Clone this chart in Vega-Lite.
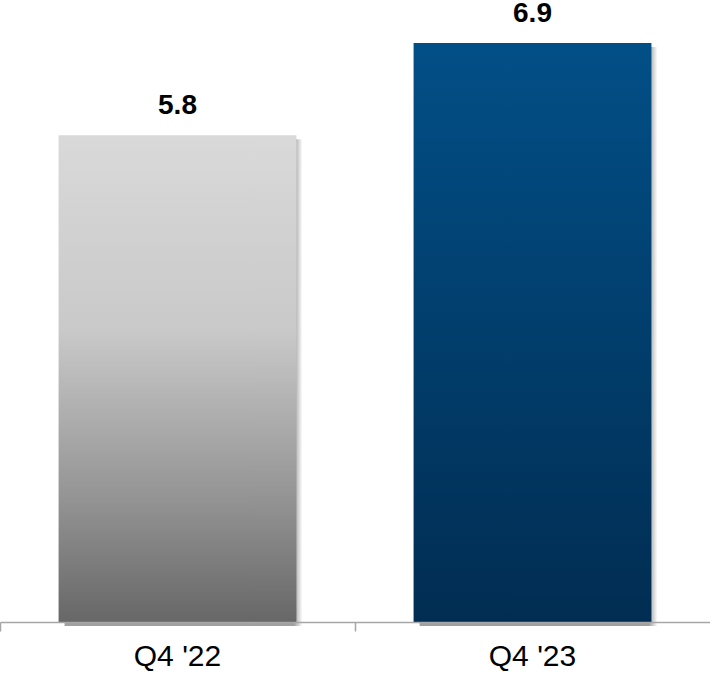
{
  "$schema": "https://vega.github.io/schema/vega-lite/v6.json",
  "width": 710,
  "height": 622,
  "padding": {"left": 0, "top": 0, "right": 0, "bottom": 56},
  "autosize": {"type": "none"},
  "background": "white",
  "config": {"view": {"stroke": null}},
  "data": {"values": [
    {"period": "Q4 '22", "value": 5.8},
    {"period": "Q4 '23", "value": 6.9}
  ]},
  "encoding": {
    "x": {
      "field": "period", "type": "nominal", "sort": null,
      "scale": {"paddingInner": 0, "paddingOuter": 0},
      "axis": {
        "title": null, "bandPosition": 0, "labelAngle": 0,
        "labelFont": "Liberation Sans", "labelFontSize": 30, "labelColor": "#000000",
        "labelPadding": 10, "domainColor": "#a6a6a6", "domainWidth": 1.5,
        "tickColor": "#a6a6a6", "tickSize": 9, "tickWidth": 1.5, "zindex": 1
      }
    },
    "y": {
      "field": "value", "type": "quantitative",
      "scale": {"domain": [0, 7.413], "nice": false, "zero": true},
      "axis": null
    }
  },
  "layer": [
    {
      "mark": {
        "type": "bar", "width": {"band": 0.67}, "xOffset": 6, "yOffset": 4,
        "color": {"gradient": "linear", "x1": 0, "y1": 0, "x2": 1, "y2": 0,
          "stops": [{"offset": 0, "color": "#a0a0a0"}, {"offset": 0.965, "color": "#a0a0a0"}, {"offset": 1, "color": "#ffffff"}]}
      }
    },
    {
      "transform": [{"filter": "datum.value < 6"}],
      "mark": {
        "type": "bar", "width": {"band": 0.67},
        "color": {"gradient": "linear", "x1": 0, "y1": 0, "x2": 0, "y2": 1,
          "stops": [{"offset": 0, "color": "#d9d9d9"}, {"offset": 0.4, "color": "#c9c9c9"}, {"offset": 0.75, "color": "#939393"}, {"offset": 1, "color": "#676767"}]}
      }
    },
    {
      "transform": [{"filter": "datum.value > 6"}],
      "mark": {
        "type": "bar", "width": {"band": 0.67},
        "color": {"gradient": "linear", "x1": 0, "y1": 0, "x2": 0, "y2": 1,
          "stops": [{"offset": 0, "color": "#024f87"}, {"offset": 1, "color": "#012d52"}]}
      }
    },
    {
      "mark": {
        "type": "text", "baseline": "bottom", "dy": -15,
        "font": "Liberation Sans", "fontSize": 28, "fontWeight": "bold", "color": "#000000"
      },
      "encoding": {"text": {"field": "value", "type": "quantitative", "format": ".1f"}}
    }
  ]
}
